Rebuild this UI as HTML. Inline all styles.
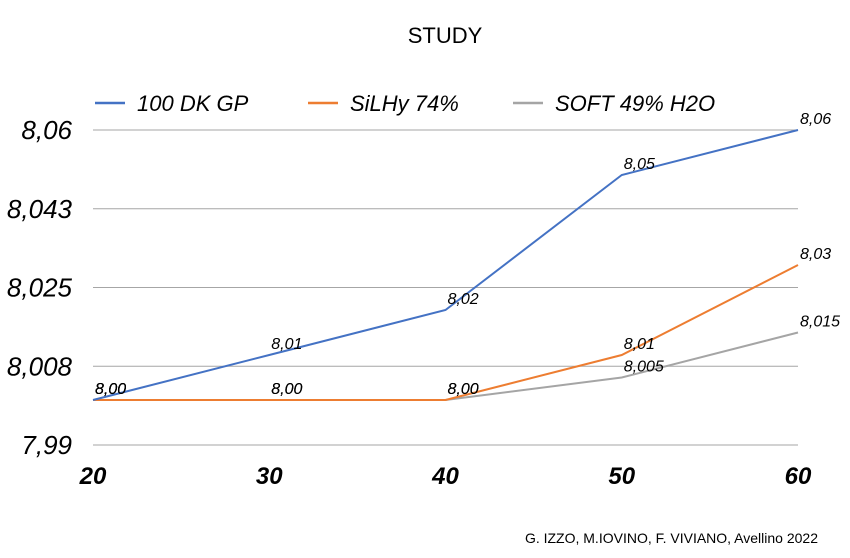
<!DOCTYPE html>
<html><head><meta charset="utf-8"><style>
body{margin:0;background:#fff;}
svg{display:block;font-family:"Liberation Sans",sans-serif;}
</style></head><body>
<svg id="chart" width="850" height="558">
<text x="445" y="43" text-anchor="middle" font-size="22">STUDY</text>
<g>
<line x1="95" y1="103" x2="125" y2="103" stroke="#4472c4" stroke-width="2.5"/>
<text x="137" y="111" font-size="22" font-style="italic">100 DK GP</text>
<line x1="308" y1="103" x2="338" y2="103" stroke="#ed7d31" stroke-width="2.5"/>
<text x="350" y="111" font-size="22" font-style="italic">SiLHy 74%</text>
<line x1="513" y1="103" x2="543" y2="103" stroke="#a5a5a5" stroke-width="2.5"/>
<text x="555" y="111" font-size="22" font-style="italic">SOFT 49% H2O</text>
</g>
<g id="grid"></g><g id="yt"></g><g id="xt"></g><g id="series"></g><g id="labels"></g>
<text x="818" y="543" text-anchor="end" font-size="14">G. IZZO, M.IOVINO, F. VIVIANO, Avellino 2022</text>
</svg>
<script>
const categories=[20,30,40,50,60];
const yTicks=[7.99,8.0075,8.025,8.0425,8.06];
const yTickLabels=["7,99","8,008","8,025","8,043","8,06"];
const seriesNames=["100 DK GP","SiLHy 74%","SOFT 49% H2O"];
const blueValues=[8.00,8.01,8.02,8.05,8.06];
const orangeValues=[8.00,8.00,8.00,8.01,8.03];
const grayValues=[8.00,8.00,8.00,8.005,8.015];
const blueLabels=["8,00","8,01","8,02","8,05","8,06"];
const orangeLabels=["8,00","8,00","8,00","8,01","8,03"];
const grayLabels=["8,00","8,00","8,00","8,005","8,015"];
const NS="http://www.w3.org/2000/svg";
const X=v=>93+(v-20)/40*705;
const Y=v=>445-(v-7.99)/0.07*315;
function mk(t,a,p){const e=document.createElementNS(NS,t);for(const k in a)e.setAttribute(k,a[k]);document.getElementById(p).appendChild(e);return e;}
yTicks.forEach((t,i)=>{
 const g=mk('line',{x1:93,x2:798,y1:Y(t),y2:Y(t),stroke:'#a6a6a6','stroke-width':1},'grid');
 
 
 const l=mk('text',{x:72,y:Y(t)+9,'text-anchor':'end','font-size':26,'font-style':'italic'},'yt');
 l.textContent=yTickLabels[i];
 
 
});
categories.forEach(c=>{
 const l=mk('text',{x:X(c),y:484,'text-anchor':'middle','font-size':24,'font-style':'italic','font-weight':'bold'},'xt');
 l.textContent=c;
 
 
});
const all=[[grayValues,'#a5a5a5',grayLabels,'soft'],[orangeValues,'#ed7d31',orangeLabels,'silhy'],[blueValues,'#4472c4',blueLabels,'100dk']];
all.forEach(([vals,col,labs,nm])=>{
 const p=mk('polyline',{points:vals.map((v,i)=>X(categories[i])+','+Y(v)).join(' '),fill:'none',stroke:col,'stroke-width':2},'series');
 
 
 vals.forEach((v,i)=>{
  const t=mk('text',{x:X(categories[i])+2,y:Y(v)-6,'font-size':16,'font-style':'italic'},'labels');
  t.textContent=labs[i];
  
  
 });
});
</script>
</body></html>
